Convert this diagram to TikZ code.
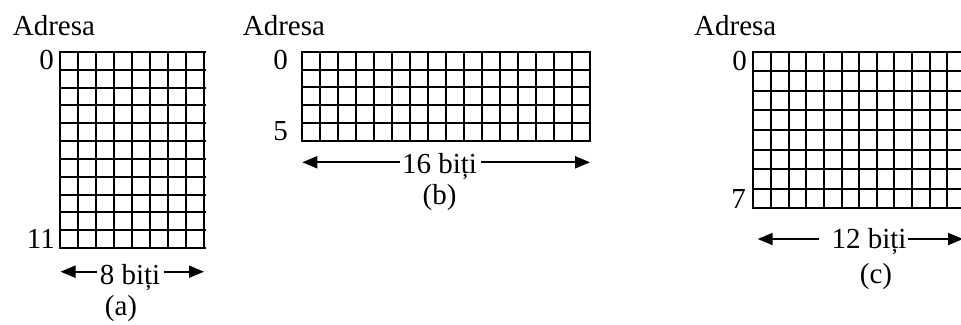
\documentclass[tikz,border=0pt]{standalone}
\usepackage{fontspec}
\setmainfont{Liberation Serif}
\usetikzlibrary{arrows.meta}
\begin{document}
\begin{tikzpicture}[x=1pt,y=-1pt,
  txt/.style={inner sep=0pt,font=\fontsize{29}{34}\selectfont},
  cell/.style={line width=2pt,line cap=rect},
  dim/.style={line width=1.9pt,-{Triangle[length=15pt,width=12pt]}}]
\useasboundingbox (0,0) rectangle (961,324);
\clip (0,0) rectangle (961,324);
% ---------- (a) ----------
\node[txt,anchor=base west] (adrA) at (12.7,35) {Adresa};
\foreach \i in {0,...,8} \draw[cell] (60+\i*18.06,52) -- (60+\i*18.06,248);
\foreach \j in {0,...,11} \draw[cell] (60,52+\j*17.82) -- (204.5,52+\j*17.82);
\node[txt,anchor=base east] (a0) at (54,69.8) {0};
\node[txt,anchor=base east] (a11) at (55,248) {11};
\node[txt,anchor=base] (bitsA) at (130,284.3) {8 biți};
\coordinate (aL) at (60.5,271.7);
\coordinate (aR) at (204,271.7);
\draw[dim] (bitsA.west |- aL) ++(-3,0) -- (aL);
\draw[dim] (bitsA.east |- aR) ++(4,0) -- (aR);
\node[txt,anchor=base] (capA) at (121,315) {(a)};
% ---------- (b) ----------
\node[txt,anchor=base west] (adrB) at (242.7,35) {Adresa};
\foreach \i in {0,...,16} \draw[cell] (301.7+\i*18.02,51.7) -- (301.7+\i*18.02,141);
\foreach \j in {0,...,5} \draw[cell] (301.7,51.7+\j*17.86) -- (590,51.7+\j*17.86);
\node[txt,anchor=base east] (b0) at (288,69.3) {0};
\node[txt,anchor=base east] (b5) at (288,140) {5};
\node[txt,anchor=base] (bitsB) at (439.5,173.3) {16 biți};
\coordinate (bL) at (302.3,162.3);
\coordinate (bR) at (590,162.3);
\draw[dim] (bitsB.west |- bL) ++(-2,0) -- (bL);
\draw[dim] (bitsB.east |- bR) ++(4,0) -- (bR);
\node[txt,anchor=base] (capB) at (439.5,204) {(b)};
% ---------- (c) ----------
\node[txt,anchor=base west] (adrC) at (694,35) {Adresa};
\foreach \i in {0,...,12} \draw[cell] (753.3+\i*17.64,51.7) -- (753.3+\i*17.64,208.3);
\foreach \j in {0,...,8} \draw[cell] (753.3,51.7+\j*19.58) -- (965,51.7+\j*19.58);
\node[txt,anchor=base east] (c0) at (747,70) {0};
\node[txt,anchor=base east] (c7) at (746,208.3) {7};
\node[txt,anchor=base] (bitsC) at (869,248.3) {12 biți};
\coordinate (cL) at (757.7,239);
\coordinate (cR) at (963,239);
\draw[dim] (bitsC.west |- cL) ++(-12,0) -- (cL);
\draw[dim] (bitsC.east |- cR) ++(1,0) -- (cR);
\node[txt,anchor=base] (capC) at (876,283) {(c)};
\end{tikzpicture}
\end{document}
